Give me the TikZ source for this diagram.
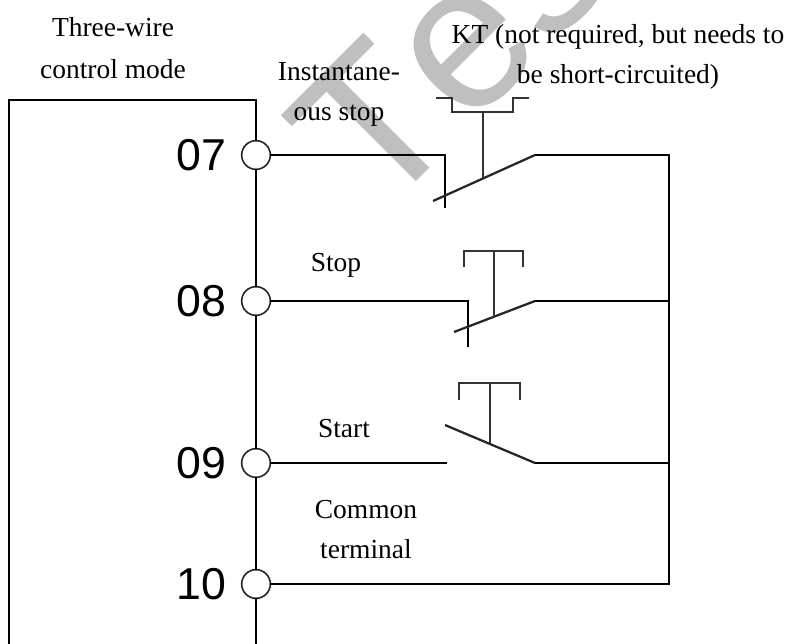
\documentclass[tikz,border=0pt]{standalone}
\usepackage{fontspec}
\setmainfont{Liberation Serif}
\newfontfamily\pinfont{Liberation Sans}
\newfontfamily\markfont[Kerning=Off]{Liberation Sans}
\usetikzlibrary{positioning}
\pgfdeclarelayer{background}
\pgfsetlayers{background,main}
\tikzstyle{terminal}=[circle,draw=black!85,fill=white,line width=1.2pt,minimum size=21.5pt,inner sep=0pt]
\tikzstyle{pin label}=[inner sep=0pt,font=\pinfont\fontsize{33.5}{36}\selectfont]
\tikzstyle{note}=[inner sep=0pt,align=center,anchor=base,font=\fontsize{20.6}{30}\selectfont]
\tikzstyle{edge}=[draw,line width=1.4pt,-]
\tikzstyle{blade}=[draw,line width=1.7pt,black!85,-]
\tikzstyle{stem}=[draw,line width=1.3pt,black!80,-]

\begin{document}
\begin{tikzpicture}[x=0.75pt,y=-0.75pt]
    \useasboundingbox (0,0) rectangle (791,643);
    \begin{pgfonlayer}{background}
        \node[anchor=base west,rotate=45,inner sep=0pt,text=black!25,
              font=\markfont\fontsize{155}{155}\selectfont] (mark) at (378,220) {Test};
    \end{pgfonlayer}

    \foreach \pos/\name in {{(256,155)/t07}, {(256,301)/t08}, {(256,463)/t09}, {(256,584)/t10}}
        \node[terminal] (\name) at \pos {};

    \foreach \term/\num in {t07/07, t08/08, t09/09, t10/10}
        \node[pin label, left=10.5pt of \term] (pin\term) {\num};

    \foreach \pos/\name in {{(9,643)/boxbl}, {(9,100)/boxtl}, {(256,100)/boxtr}, {(256,643)/boxbr},
                            {(445,155)/a1}, {(445,207)/a2}, {(433,201)/a3}, {(535,155)/a4}, {(669,155)/a5},
                            {(468,301)/b1}, {(468,346)/b2}, {(454,332)/b3}, {(535,301)/b4}, {(669,301)/b5},
                            {(446,463)/c1}, {(445,425)/c3}, {(535,463)/c4}, {(669,463)/c5},
                            {(669,584)/d5}}
        \path \pos coordinate (\name);

    \foreach \source/\dest in {boxbl/boxtl, boxtl/boxtr, boxtr/t07, t07/t08, t08/t09, t09/t10, t10/boxbr,
                               t07/a1, a1/a2, a4/a5, t08/b1, b1/b2, b4/b5, t09/c1, c4/c5, t10/d5,
                               a5/b5, b5/c5, c5/d5}
        \path[edge,line cap=rect] (\source) -- (\dest);

    \foreach \source/\dest in {a3/a4, b3/b4, c3/c4}
        \path[blade] (\source) -- (\dest);

    \path[stem] (436,98) -- (452,98) -- (452,112) -- (513,112) -- (513,98) -- (529,98);
    \path[stem] (483,112) -- (483,178);
    \path[stem] (464,267) -- (464,251) -- (523,251) -- (523,267);
    \path[stem] (494,251) -- (494,317);
    \path[stem] (459,400) -- (459,383) -- (520,383) -- (520,400);
    \path[stem] (490,383) -- (490,443);

    \node[note] (mode) at (113,78) {Three-wire\\[1.5pt]control mode};
    \node[note] (instant) at (339,120) {Instantane-\\ous stop};
    \node[note] (kt) at (618,83) {KT (not required, but needs to\\be short-circuited)};
    \node[note] (stop) at (336,271) {Stop};
    \node[note] (start) at (344,437) {Start};
    \node[note] (common) at (366,558) {Common\\terminal};
\end{tikzpicture}
\end{document}
